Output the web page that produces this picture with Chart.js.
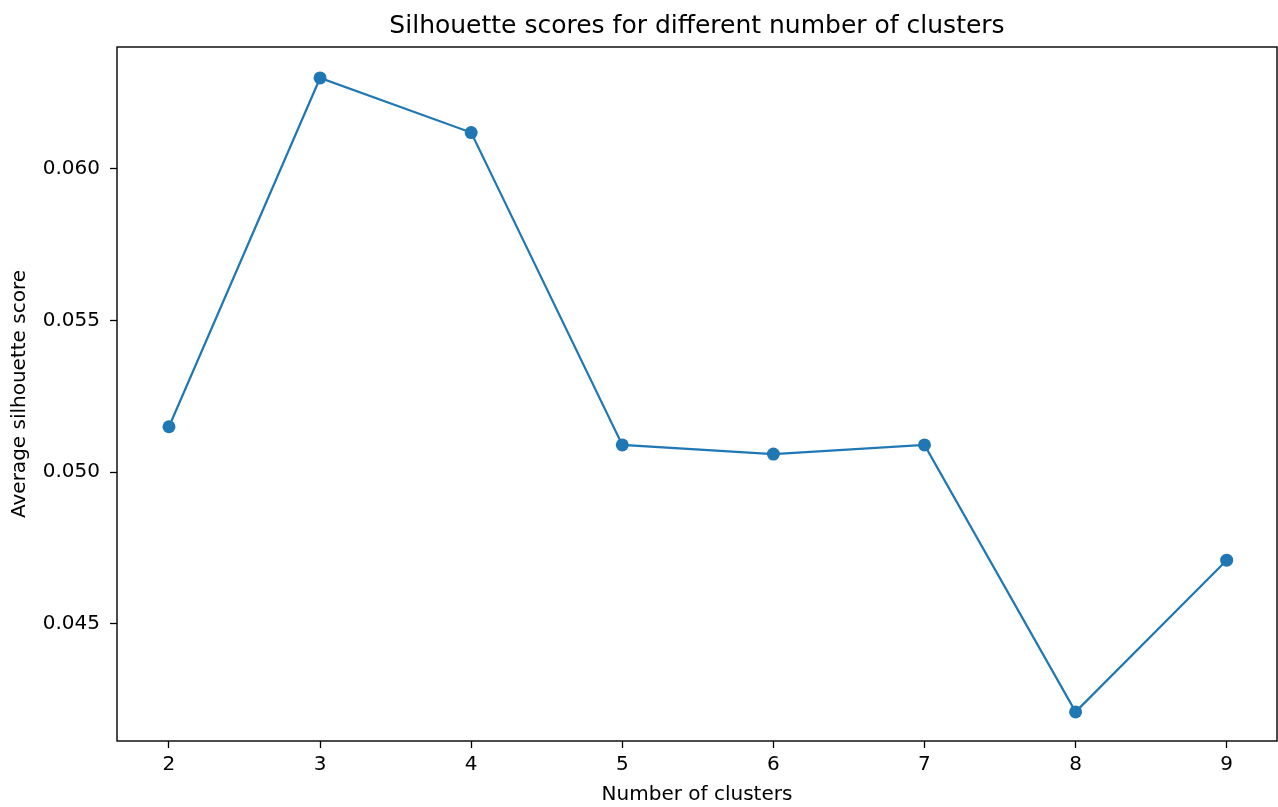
<!DOCTYPE html>
<html>
<head>
<meta charset="utf-8">
<script src="https://cdn.jsdelivr.net/npm/chart.js@4.4.1/dist/chart.umd.min.js"></script>
<style>
  html, body { margin: 0; padding: 0; background: #fff; }
  #wrap { width: 1278px; height: 807px; }
</style>
</head>
<body>
<div id="wrap"><canvas id="silhouette-chart" width="1278" height="807"></canvas></div>
<script>
// number of clusters and the silhouette score
const clusters = [2, 3, 4, 5, 6, 7, 8, 9]
const scores = [0.0515, 0.0630, 0.0612, 0.0509, 0.0506, 0.0509, 0.0421, 0.0471]
const y_ticks = [0.045, 0.050, 0.055, 0.060]

const font_family = "'DejaVu Sans', sans-serif"

// axes box on all four sides, like the matplotlib spines
const frame_plugin = {
    id: 'frame',
    afterDraw(chart) {
        let a = chart.chartArea
        let ctx = chart.ctx
        ctx.save()
        ctx.strokeStyle = '#000'
        ctx.lineWidth = 1.4
        ctx.strokeRect(a.left, a.top, a.right - a.left, a.bottom - a.top)
        ctx.restore()
    }
}

function set_up_chart() {
    let points = clusters.map((c, i) => ({x: c, y: scores[i]}))

    const data = {
        datasets: [{
            label: 'silhouette',
            data: points,
            borderColor: '#1f77b4',
            backgroundColor: '#1f77b4',
            borderWidth: 2.2,
            pointRadius: 6.5,
            pointHoverRadius: 6.5,
            pointBorderWidth: 0,
            tension: 0,
            fill: false
        }]
    }

    const config = {
        type: 'line',
        data: data,
        plugins: [frame_plugin],
        options: {
            responsive: false,
            animation: false,
            layout: { autoPadding: false, padding: { left: 0, right: 1, top: 0, bottom: 0 } },
            plugins: {
                legend: { display: false },
                tooltip: { enabled: false },
                title: {
                    display: true,
                    fullSize: false,
                    text: 'Silhouette scores for different number of clusters',
                    color: '#000',
                    font: { family: font_family, size: 25, weight: 'normal', lineHeight: 1.2 },
                    padding: { top: 11, bottom: 6 }
                }
            },
            scales: {
                x: {
                    type: 'linear',
                    min: 1.656,
                    max: 9.333,
                    afterBuildTicks: (scale) => { scale.ticks = clusters.map(v => ({value: v})) },
                    afterFit: (scale) => {
                        scale.height = 66
                        scale.paddingLeft = 0
                        scale.paddingRight = 0
                    },
                    grid: { drawOnChartArea: false, drawTicks: true, tickLength: 7, color: '#000', tickWidth: 1.3 },
                    border: { display: false },
                    ticks: {
                        color: '#000',
                        padding: 5,
                        maxRotation: 0,
                        font: { family: font_family, size: 20 },
                        callback: (v) => String(v)
                    },
                    title: {
                        display: true,
                        text: 'Number of clusters',
                        color: '#000',
                        font: { family: font_family, size: 20 },
                        padding: { top: 3, bottom: 0 }
                    }
                },
                y: {
                    type: 'linear',
                    min: 0.04114,
                    max: 0.06402,
                    afterBuildTicks: (scale) => { scale.ticks = y_ticks.map(v => ({value: v})) },
                    afterFit: (scale) => {
                        scale.width = 117
                        scale.paddingTop = 0
                        scale.paddingBottom = 0
                    },
                    grid: { drawOnChartArea: false, drawTicks: true, tickLength: 7, color: '#000', tickWidth: 1.3 },
                    border: { display: false },
                    ticks: {
                        color: '#000',
                        padding: 10,
                        font: { family: font_family, size: 20 },
                        callback: (v) => Number(v).toFixed(3)
                    },
                    title: {
                        display: true,
                        text: 'Average silhouette score',
                        color: '#000',
                        font: { family: font_family, size: 20 },
                        padding: { top: 8, bottom: 0 }
                    }
                }
            }
        }
    }

    let my_chart = document.querySelector('#silhouette-chart')
    let crt = new Chart(my_chart, config)
}

set_up_chart()
</script>
</body>
</html>
